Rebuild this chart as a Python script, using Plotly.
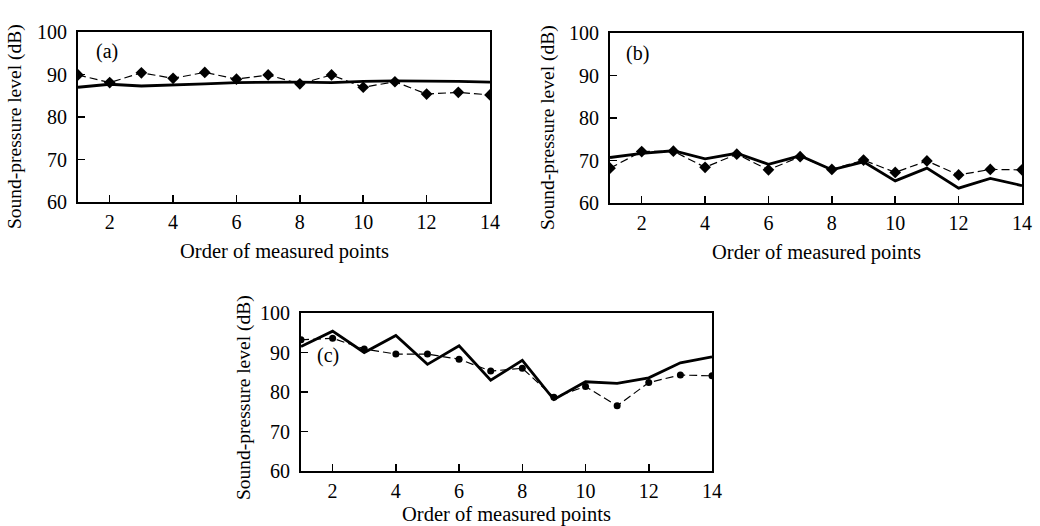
import plotly.graph_objects as go

x_points = list(range(1, 14 + 1))

# Panel (a)
a_measured = [89.9, 88.1, 90.4, 89.1, 90.5, 88.9, 89.9, 87.8, 89.9, 87.0, 88.3, 85.4, 85.8, 85.2]
a_predicted = [87.0, 87.7, 87.3, 87.5, 87.8, 88.1, 88.2, 88.2, 88.1, 88.4, 88.5, 88.5, 88.4, 88.2]

# Panel (b)
b_measured = [68.2, 72.1, 72.2, 68.4, 71.5, 67.8, 70.9, 67.9, 70.1, 67.2, 69.9, 66.6, 67.9, 67.8]
b_predicted = [70.7, 71.7, 72.3, 70.4, 71.7, 69.1, 71.1, 67.8, 69.7, 65.2, 68.2, 63.5, 65.8, 64.1]

# Panel (c)
c_measured = [93.2, 93.6, 90.9, 89.6, 89.6, 88.3, 85.3, 86.0, 78.7, 81.4, 76.5, 82.4, 84.3, 84.1]
c_predicted = [91.5, 95.4, 90.0, 94.3, 87.0, 91.7, 83.0, 88.0, 78.1, 82.6, 82.2, 83.6, 87.4, 88.9]

panel_labels = ["(a)", "(b)", "(c)"]
x_ticks = [2, 4, 6, 8, 10, 12, 14]
y_ticks = [60, 70, 80, 90, 100]
x_title = "Order of measured points"
y_title = "Sound-pressure level (dB)"

W, H = 1040, 526
FONT = "Liberation Serif, Times New Roman, serif"

panels = [
    dict(meas=a_measured, pred=a_predicted, marker="diamond", msize=9,
         box=(78, 32, 490, 202), label_px=(107, 51), ytitle_px=(15, 127), xtitle_px=(284, 251)),
    dict(meas=b_measured, pred=b_predicted, marker="diamond", msize=9,
         box=(610, 33, 1022, 203), label_px=(637, 53), ytitle_px=(548, 128), xtitle_px=(816, 252)),
    dict(meas=c_measured, pred=c_predicted, marker="circle", msize=7,
         box=(301, 313, 712, 471), label_px=(328, 355), ytitle_px=(244, 398), xtitle_px=(506, 514)),
]

fig = go.Figure()
layout = dict(
    width=W, height=H,
    margin=dict(l=0, r=0, t=0, b=0, autoexpand=False),
    paper_bgcolor="white", plot_bgcolor="white",
    showlegend=False,
    font=dict(family=FONT, color="black", size=20),
)
annotations = []
for i, p in enumerate(panels):
    n = "" if i == 0 else str(i + 1)
    x0, y0, x1, y1 = p["box"]
    fig.add_trace(go.Scatter(
        x=x_points, y=p["meas"], mode="lines+markers",
        line=dict(color="black", width=1.2, dash="8px,4px"),
        marker=dict(symbol=p["marker"], size=p["msize"], color="black"),
        xaxis="x" + n, yaxis="y" + n))
    fig.add_trace(go.Scatter(
        x=x_points, y=p["pred"], mode="lines",
        line=dict(color="black", width=2.8),
        xaxis="x" + n, yaxis="y" + n))
    common = dict(showgrid=False, zeroline=False, showline=True, linecolor="black",
                  linewidth=2, mirror=True, ticks="inside", ticklen=7, tickwidth=1.5,
                  tickcolor="black", automargin=False,
                  tickfont=dict(family=FONT, size=20, color="black"))
    layout["xaxis" + n] = dict(
        domain=[x0 / W, x1 / W], range=[1, 14], tickvals=x_ticks,
        anchor="y" + n, ticklabelstandoff=1, **common)
    layout["yaxis" + n] = dict(
        domain=[1 - y1 / H, 1 - y0 / H], range=[60, 100], tickvals=y_ticks,
        anchor="x" + n, ticklabelstandoff=5, **common)
    lx, ly = p["label_px"]
    annotations.append(dict(
        x=lx / W, y=1 - ly / H, xref="paper", yref="paper",
        xanchor="center", yanchor="middle",
        text=panel_labels[i], showarrow=False,
        font=dict(family=FONT, size=20, color="black")))
    tx, ty = p["ytitle_px"]
    annotations.append(dict(
        x=tx / W, y=1 - ty / H, xref="paper", yref="paper",
        xanchor="center", yanchor="middle", textangle=-90,
        text=y_title, showarrow=False,
        font=dict(family=FONT, size=19.5, color="black")))
    tx, ty = p["xtitle_px"]
    annotations.append(dict(
        x=tx / W, y=1 - ty / H, xref="paper", yref="paper",
        xanchor="center", yanchor="middle",
        text=x_title, showarrow=False,
        font=dict(family=FONT, size=20.5, color="black")))
layout["annotations"] = annotations
fig.update_layout(**layout)
fig.write_html(
    "out.html",
    config={"displayModeBar": False, "staticPlot": True},
    post_script="document.body.style.margin='0';document.body.style.overflow='hidden';",
)
